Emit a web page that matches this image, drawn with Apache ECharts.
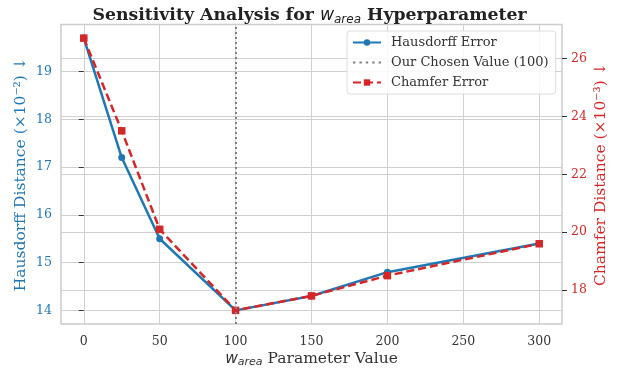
<!DOCTYPE html>
<html>
<head>
<meta charset="utf-8">
<script src="https://cdn.jsdelivr.net/npm/echarts@6/dist/echarts.min.js"></script>
<style>
html,body{margin:0;padding:0;background:#fff;}
#chart{width:619px;height:370px;}
</style>
</head>
<body>
<div id="chart"></div>
<script>
// ---- data ----
var wArea = [0, 25, 50, 100, 150, 200, 300];
var hausdorff = [19.7, 17.2, 15.5, 14.0, 14.3, 14.8, 15.4];
var chamfer = [26.7, 23.5, 20.1, 17.3, 17.8, 18.5, 19.6];
var chosenValue = 100;
var xTicks = [0, 50, 100, 150, 200, 250, 300];
var leftTicks = [14, 15, 16, 17, 18, 19];
var rightTicks = [18, 20, 22, 24, 26];

// ---- layout helpers (matplotlib-like 5% margins) ----
function padded(arr) {
  var mn = Math.min.apply(null, arr), mx = Math.max.apply(null, arr);
  var m = (mx - mn) * 0.05;
  return [mn - m, mx + m];
}
var xr = padded(wArea), lr = padded(hausdorff), rr = padded(chamfer);

var BLUE = '#1f77b4', RED = '#d62728', GRID = '#d0d0d0', SERIF = 'DejaVu Serif';
function pairs(xs, ys) { return xs.map(function (x, i) { return [x, ys[i]]; }); }
// dotted-line legend icon (bounding points at top/bottom keep it thin)
var dottedIcon = 'path://M0,0L0.01,0M0,8L0.01,8' +
  'M0,3h2.4v2h-2.4zM6.4,3h2.4v2h-2.4zM12.8,3h2.4v2h-2.4zM19.2,3h2.4v2h-2.4zM25.6,3h2.4v2h-2.4z';

var chart = echarts.init(document.getElementById('chart'));
chart.setOption({
  animation: false,
  backgroundColor: '#fff',
  title: {
    text: '{b|Sensitivity Analysis for }{w|w}{s|area}{b| Hyperparameter}',
    left: 'center', top: 1,
    textStyle: {
      rich: {
        b: { fontFamily: SERIF, fontWeight: 'bold', fontSize: 17.3, color: '#222' },
        w: { fontFamily: 'DejaVu Sans', fontStyle: 'italic', fontWeight: 'normal', fontSize: 17.3, color: '#222' },
        s: { fontFamily: 'DejaVu Sans', fontStyle: 'italic', fontWeight: 'normal', fontSize: 12, color: '#222', padding: [8, 0, 0, 0] }
      }
    }
  },
  legend: {
    orient: 'vertical', left: 347, top: 31,
    itemWidth: 28, itemHeight: 8, itemGap: 5,
    padding: [4, 7, 4, 5],
    borderColor: '#dcdcdc', borderWidth: 1, borderRadius: 3,
    backgroundColor: 'rgba(255,255,255,0.85)',
    textStyle: { fontFamily: SERIF, fontSize: 13, color: '#333', padding: [0, 0, 0, 5], lineHeight: 15 },
    data: [
      { name: 'Hausdorff Error' },
      { name: 'Our Chosen Value (100)', icon: dottedIcon, itemStyle: { color: '#808080' } },
      { name: 'Chamfer Error' }
    ]
  },
  grid: {
    left: 61, right: 57, top: 24.5, bottom: 46,
    outerBoundsMode: 'none', containLabel: false,
    show: true, borderColor: '#cccccc', borderWidth: 1.5, backgroundColor: 'transparent'
  },
  xAxis: {
    type: 'value', min: xr[0], max: xr[1],
    name: '{w|w}{s|area}{t| Parameter Value}', nameLocation: 'middle', nameGap: 26,
    nameMoveOverlap: false,
    nameTextStyle: {
      rich: {
        w: { fontFamily: 'DejaVu Sans', fontStyle: 'italic', fontSize: 15.5, color: '#333' },
        s: { fontFamily: 'DejaVu Sans', fontStyle: 'italic', fontSize: 11, color: '#333', padding: [7, 0, 0, 0] },
        t: { fontFamily: SERIF, fontSize: 15.5, color: '#333' }
      }
    },
    axisLine: { show: false },
    axisTick: { show: false, customValues: xTicks },
    axisLabel: { customValues: xTicks, fontFamily: SERIF, fontSize: 12.5, color: '#333', margin: 11 },
    splitLine: { show: true, lineStyle: { color: GRID, width: 1 } }
  },
  yAxis: [{
    type: 'value', position: 'left', min: lr[0], max: lr[1],
    name: 'Hausdorff Distance (×10⁻²) ↓', nameLocation: 'middle', nameRotate: 90, nameGap: 32,
    nameMoveOverlap: false,
    nameTextStyle: { fontFamily: SERIF, fontSize: 15.5, color: BLUE },
    axisLine: { show: false },
    axisTick: { show: true, customValues: leftTicks, length: 5, lineStyle: { color: '#333', width: 1 } },
    axisLabel: { customValues: leftTicks, fontFamily: SERIF, fontSize: 12.5, color: BLUE, margin: 9 },
    splitLine: { show: true, lineStyle: { color: GRID, width: 1 } }
  }, {
    type: 'value', position: 'right', min: rr[0], max: rr[1],
    name: 'Chamfer Distance (×10⁻³) ↓', nameLocation: 'middle', nameRotate: 90, nameGap: 31,
    nameMoveOverlap: false,
    nameTextStyle: { fontFamily: SERIF, fontSize: 15.5, color: RED },
    axisLine: { show: false },
    axisTick: { show: true, customValues: rightTicks, length: 5, lineStyle: { color: '#333', width: 1 } },
    axisLabel: { customValues: rightTicks, fontFamily: SERIF, fontSize: 12.5, color: RED, margin: 9 },
    splitLine: { show: true, lineStyle: { color: GRID, width: 1 } }
  }],
  series: [{
    name: 'Hausdorff Error', type: 'line', yAxisIndex: 0,
    data: pairs(wArea, hausdorff),
    symbol: 'circle', symbolSize: 7,
    lineStyle: { color: BLUE, width: 2.5 }, itemStyle: { color: BLUE },
    z: 3
  }, {
    name: 'Our Chosen Value (100)', type: 'line', yAxisIndex: 0, data: [],
    symbol: 'none',
    lineStyle: { color: '#808080', width: 2, type: [2, 3] }, itemStyle: { color: '#808080' },
    markLine: {
      silent: true, symbol: ['none', 'none'], label: { show: false },
      lineStyle: { color: '#808080', width: 2, type: [2, 3] },
      data: [{ xAxis: chosenValue }]
    },
    z: 2
  }, {
    name: 'Chamfer Error', type: 'line', yAxisIndex: 1,
    data: pairs(wArea, chamfer),
    symbol: 'rect', symbolSize: 7.5,
    lineStyle: { color: RED, width: 2.5, type: [8, 4] }, itemStyle: { color: RED },
    z: 4
  }]
});
</script>
</body>
</html>
